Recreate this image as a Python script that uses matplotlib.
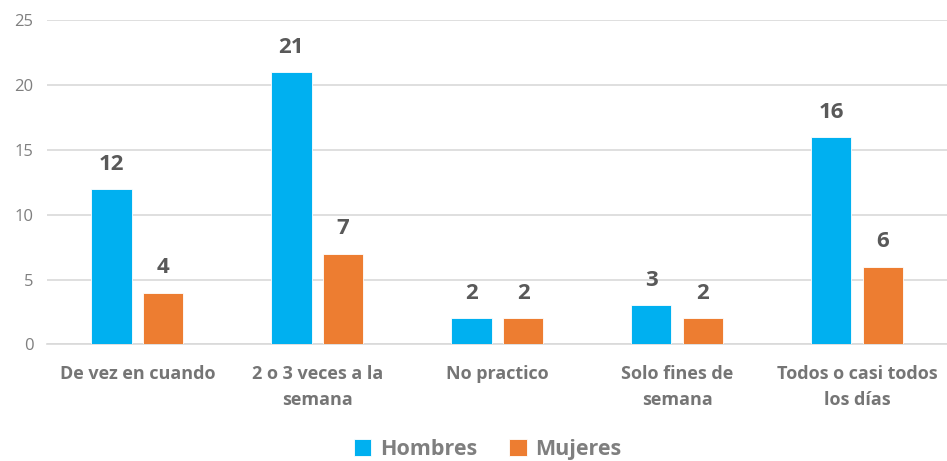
import numpy as np
import matplotlib.pyplot as plt

categorias = ['De vez en cuando', '2 o 3 veces a la\nsemana', 'No practico',
              'Solo fines de\nsemana', 'Todos o casi todos\nlos días']
hombres = [12, 21, 2, 3, 16]
mujeres = [4, 7, 2, 2, 6]

plt.rcParams['font.family'] = ['Open Sans', 'DejaVu Sans']

fig = plt.figure(figsize=(9.47, 4.61), dpi=100)
ax = fig.add_axes([0.05, 0.253, 0.95, 0.703])

x = np.arange(len(categorias))
w = 0.225
off = 0.144
b1 = ax.bar(x - off, hombres, w, color='#00B0F0', edgecolor='white', linewidth=0.6, label='Hombres', zorder=3)
b2 = ax.bar(x + off, mujeres, w, color='#ED7D31', edgecolor='white', linewidth=0.6, label='Mujeres', zorder=3)

for bars, vals in [(b1, hombres), (b2, mujeres)]:
    for bar, v in zip(bars, vals):
        ax.text(bar.get_x() + bar.get_width() / 2, v + 1.1, str(v), ha='center', va='bottom',
                fontsize=16, fontweight='bold', color='#595959')

ax.set_xlim(-0.5, 4.5)
ax.set_ylim(0, 25)
ax.set_yticks([0, 5, 10, 15, 20, 25])
ax.set_xticks(x)
ax.set_xticklabels(categorias, fontsize=13, fontweight='bold', color='#757575', linespacing=1.55)
ax.tick_params(axis='y', labelsize=12, labelcolor='#7F7F7F', length=0, pad=10)
ax.tick_params(axis='x', length=0, pad=15)
ax.grid(axis='y', color='#D9D9D9', linewidth=1.2, zorder=0)
for s in ['top', 'right', 'left']:
    ax.spines[s].set_visible(False)
ax.spines['bottom'].set_color('#D9D9D9')
ax.spines['bottom'].set_linewidth(1.2)

leg = fig.legend(loc='lower center', bbox_to_anchor=(0.515, -0.04), ncol=2, frameon=False,
                 prop={'size': 15.5, 'weight': 'bold'}, handlelength=0.8, handleheight=0.8,
                 handletextpad=0.4, columnspacing=1.5)
for t in leg.get_texts():
    t.set_color('#7F7F7F')

plt.savefig('out.png', dpi=100)
